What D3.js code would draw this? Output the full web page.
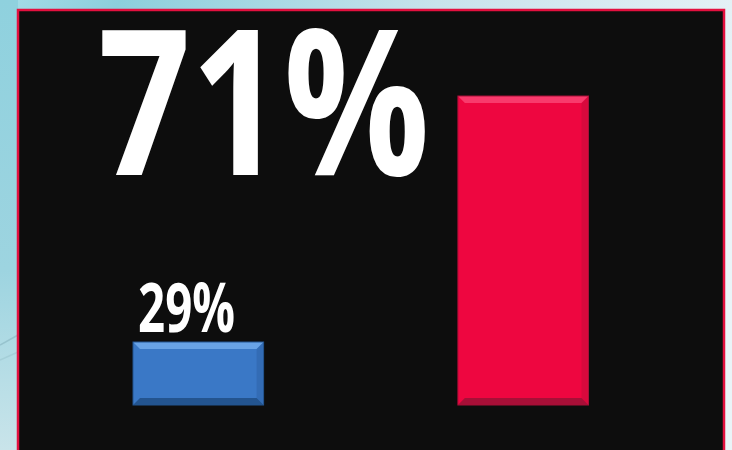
<!DOCTYPE html>
<html>
<head>
<meta charset="utf-8">
<script src="https://cdn.jsdelivr.net/npm/d3@7"></script>
<style>
html,body{margin:0;padding:0;background:#fff;}
svg{display:block;}
</style>
</head>
<body>
<svg id="chart" width="732" height="450"></svg>
<script>
const categories = ["Group A", "Group B"];
const values = [29, 71];
const labels = ["29%", "71%"];
const colors = ["#3a78c6", "#ee0640"];
const lightColors = ["#69a3e6", "#f83a6c"];
const darkColors = ["#23548f", "#a70f37"];

const W = 732, H = 450;
const svg = d3.select("#chart");
const defs = svg.append("defs");

const bg = defs.append("linearGradient").attr("id","bg").attr("x1","0").attr("y1","0").attr("x2","1").attr("y2","0.3");
bg.append("stop").attr("offset","0").attr("stop-color","#a6dde8");
bg.append("stop").attr("offset","0.15").attr("stop-color","#8ccfdc");
bg.append("stop").attr("offset","0.55").attr("stop-color","#c8e3ec");
bg.append("stop").attr("offset","1").attr("stop-color","#eaf4f8");
svg.append("rect").attr("width",W).attr("height",H).attr("fill","url(#bg)");
const bgl = defs.append("linearGradient").attr("id","bgl").attr("x1","0").attr("y1","0").attr("x2","0").attr("y2","1");
bgl.append("stop").attr("offset","0").attr("stop-color","#8fd1de");
bgl.append("stop").attr("offset","0.6").attr("stop-color","#9dd4e0");
bgl.append("stop").attr("offset","1").attr("stop-color","#c9e4ea");
svg.append("rect").attr("x",0).attr("y",0).attr("width",18).attr("height",H).attr("fill","url(#bgl)");
svg.append("line").attr("x1",0).attr("y1",345).attr("x2",18).attr("y2",335).attr("stroke","#5f8f9c").attr("stroke-opacity",0.3).attr("stroke-width",1.5);
svg.append("line").attr("x1",0).attr("y1",360).attr("x2",18).attr("y2",352).attr("stroke","#6f9aa5").attr("stroke-opacity",0.2).attr("stroke-width",1.5);

svg.append("rect").attr("x",18).attr("y",10).attr("width",706).attr("height",470)
  .attr("fill","#0d0d0d").attr("stroke","#e3103f").attr("stroke-width",2.5);

const x = d3.scaleBand().domain(categories).range([133, 588.5]).paddingInner(0.598).paddingOuter(0);
const y = d3.scaleLinear().domain([18.24, 71]).range([405, 96]);

const data = categories.map((c,i)=>({c, v:values[i], label:labels[i], col:colors[i], lc:lightColors[i], dc:darkColors[i]}));
const bev = 7;
const g = svg.append("g");
data.forEach(d=>{
  const x0 = x(d.c), bw = x.bandwidth(), y0 = y(d.v), y1 = y.range()[0];
  const x1 = x0 + bw;
  const bar = g.append("g");
  bar.append("rect").attr("x",x0).attr("y",y0).attr("width",bw).attr("height",y1-y0).attr("fill",d.col);
  bar.append("path").attr("d",`M${x0},${y0}L${x1},${y0}L${x1-bev},${y0+bev}L${x0+bev},${y0+bev}Z`).attr("fill",d.lc);
  bar.append("path").attr("d",`M${x0},${y1}L${x1},${y1}L${x1-bev},${y1-bev}L${x0+bev},${y1-bev}Z`).attr("fill",d.dc);
  bar.append("path").attr("d",`M${x1},${y0}L${x1-bev},${y0+bev}L${x1-bev},${y1-bev}L${x1},${y1}Z`).attr("fill",d.dc).attr("opacity",0.3);
  bar.append("rect").attr("x",x0).attr("y",y0).attr("width",bw).attr("height",y1-y0).attr("fill","none").attr("stroke",d.dc).attr("stroke-width",1);
});

const font = "'Open Sans','Noto Sans',sans-serif";
{
  const d = data[0];
  g.append("text").attr("x", x(d.c) + 5).attr("y", y(d.v) - 10)
    .attr("font-family",font).attr("font-weight","bold").attr("font-size",68)
    .attr("fill","#fff").attr("textLength",97).attr("lengthAdjust","spacingAndGlyphs")
    .text(d.label);
}
{
  const d = data[1];
  g.append("text").attr("x", x(d.c) - 360).attr("y", y(d.v) + 79)
    .attr("font-family",font).attr("font-weight","bold").attr("font-size",203)
    .attr("fill","#fff").attr("textLength",332).attr("lengthAdjust","spacingAndGlyphs")
    .text(d.label);
}
</script>
</body>
</html>
